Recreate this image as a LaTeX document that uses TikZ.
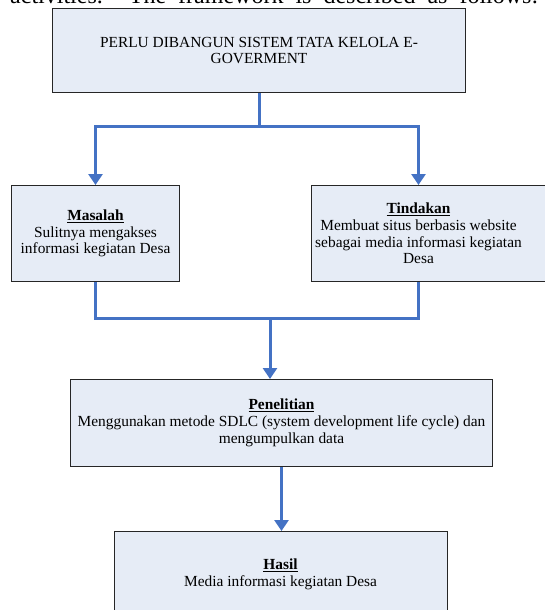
\documentclass[tikz,border=0pt]{standalone}
\usepackage{fontspec}
\setmainfont{Liberation Serif}
\usetikzlibrary{arrows.meta}
\definecolor{boxfill}{RGB}{230,236,246}
\definecolor{flowblue}{RGB}{68,114,196}
\begin{document}
\begin{tikzpicture}[x=1pt,y=-1pt,
  box/.style={draw=black!85, line width=1pt, fill=boxfill, inner sep=0pt,
    font=\fontsize{15.4}{16.7}\selectfont, align=center},
  txt/.style={font=\fontsize{15.4}{16.7}\selectfont, align=center, inner sep=0pt},
  flow/.style={draw=flowblue, line width=3pt},
  arr/.style={flow, -{Triangle[width=14pt,length=11pt]}}]
\useasboundingbox (0,0) rectangle (545,610);
\clip (0,0) rectangle (545,610);

% last line of the running text above the figure
\node[anchor=base west, font=\fontsize{24}{28}\selectfont, inner sep=0pt] (intro) at (10,4)
  {\makebox[528pt][s]{activities. The framework is described as follows:}};

% boxes
\node[box, anchor=north west, minimum width=413pt, minimum height=84pt] (top) at (52,8)
  {PERLU DIBANGUN SISTEM TATA KELOLA E-\\GOVERMENT};
\node[box, anchor=north west, minimum width=168pt, minimum height=96pt] (masalah) at (11,185)
  {\underline{\textbf{Masalah}}\\Sulitnya mengakses\\informasi kegiatan Desa};
\node[box, anchor=north west, minimum width=260pt, minimum height=96pt] (tindbox) at (311,185) {};
\node[txt] (tindtext) at (418.5,233.5)
  {\underline{\textbf{Tindakan}}\\Membuat situs berbasis website\\sebagai media informasi kegiatan\\Desa};
\node[box, anchor=north west, minimum width=422pt, minimum height=87pt] (pen) at (70,379)
  {\underline{\textbf{Penelitian}}\\Menggunakan metode SDLC (system development life cycle) dan\\mengumpulkan data};
\node[box, anchor=north west, minimum width=333pt, minimum height=120pt] (hasilbox) at (114,531) {};
\node[txt] (hasiltext) at (280.5,574.5)
  {\underline{\textbf{Hasil}}\\Media informasi kegiatan Desa};

% connectors
\coordinate (split) at (259,126);
\coordinate (merge) at (270,318);
\draw[arr] (top.south) |- (masalah.north |- split) -- (masalah.north);
\draw[arr] (top.south) |- (tindtext.north |- split) -- (tindtext.north |- tindbox.north);
\draw[flow] (masalah.south) |- (tindtext.south |- merge) -- (tindtext.south |- tindbox.south);
\draw[arr] (merge) -- (merge |- pen.north);
\draw[arr] (pen.south) -- (pen.south |- hasilbox.north);
\end{tikzpicture}
\end{document}
